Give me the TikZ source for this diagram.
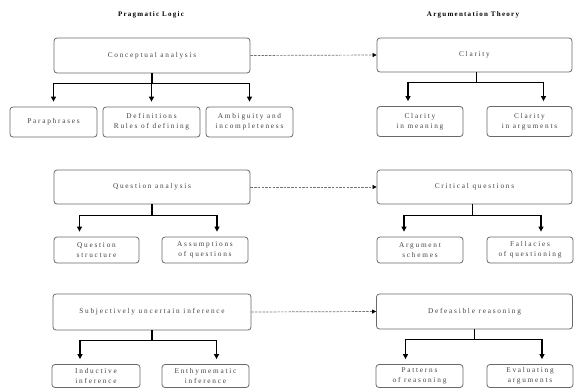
\documentclass[tikz,border=0pt]{standalone}
\usepackage{fontspec}
\newfontfamily\boxfont[LetterSpace=24]{Liberation Serif}
\newfontfamily\headfont[LetterSpace=18]{Liberation Serif Bold}
\usetikzlibrary{arrows.meta}
\definecolor{boxline}{RGB}{105,105,105}
\definecolor{boxtext}{RGB}{65,65,65}

\begin{document}
\begin{tikzpicture}[x=1pt,y=-1pt,
    box/.style={draw=boxline, line width=0.8pt, rounded corners=3pt, align=center,
      text=boxtext, inner sep=0pt, font=\boxfont\fontsize{7.3}{10}\selectfont},
    head/.style={font=\headfont\fontsize{7}{9}\selectfont},
    tree/.style={line width=1.2pt, shorten >=5pt, -{Triangle[length=5pt,width=5pt]}},
    link/.style={draw=gray!90!black, line width=0.7pt, dash pattern=on 2.5pt off 1.2pt,
      -{Triangle[length=4pt,width=4pt,color=black]}}]
  \useasboundingbox (0,0) rectangle (574,389);
  % Column headings
  \node[head] (hleft) at (151,15) {Pragmatic Logic};
  \node[head] (hright) at (473,15) {Argumentation Theory};
  % Conceptual analysis / Clarity
  \node[box, minimum width=196pt, minimum height=35pt] (concept) at (152,55.5) {Conceptual analysis};
  \node[box, minimum width=195pt, minimum height=34pt] (clarity) at (474.5,55) {Clarity};
  \node[box, minimum width=87pt, minimum height=30pt] (para) at (53.5,122) {Paraphrases};
  \node[box, minimum width=97pt, minimum height=30pt] (defin) at (151.5,122) {Definitions\\Rules of defining};
  \node[box, minimum width=87pt, minimum height=30pt] (ambig) at (249.5,122) {Ambiguity and\\incompleteness};
  \node[box, minimum width=86pt, minimum height=30pt] (cmean) at (420,121.5) {Clarity\\in meaning};
  \node[box, minimum width=85pt, minimum height=30pt] (carg) at (529.5,121.5) {Clarity\\in arguments};
  \draw[link] (concept.east) -- (clarity.west);
  \draw[tree] (concept.south) -- ++(0,10) -| (para.north);
  \draw[tree] (concept.south) -- ++(0,10) -| (defin.north);
  \draw[tree] (concept.south) -- ++(0,10) -| (ambig.north);
  \draw[tree] ([xshift=2pt]clarity.south) -- ++(0,10) -| ([xshift=-12pt]cmean.north);
  \draw[tree] ([xshift=2pt]clarity.south) -- ++(0,10) -| ([xshift=14pt]carg.north);
  % Question analysis / Critical questions
  \node[box, minimum width=196pt, minimum height=34pt] (quest) at (152,187) {Question analysis};
  \node[box, minimum width=195pt, minimum height=34pt] (crit) at (474.5,187) {Critical questions};
  \node[box, minimum width=85pt, minimum height=26pt] (qstruct) at (96.5,250) {Question\\structure};
  \node[box, minimum width=86pt, minimum height=26pt] (qassum) at (205,250) {Assumptions\\of questions};
  \node[box, minimum width=86pt, minimum height=26pt] (aschem) at (420,250) {Argument\\schemes};
  \node[box, minimum width=86pt, minimum height=26pt] (fallac) at (530,250) {Fallacies\\of questioning};
  \draw[link] (quest.east) -- (crit.west);
  \draw[tree] (quest.south) -- ++(0,11) -| ([xshift=-17pt]qstruct.north);
  \draw[tree] (quest.south) -- ++(0,11) -| ([xshift=12pt]qassum.north);
  \draw[tree] ([xshift=-2pt]crit.south) -- ++(0,11) -| ([xshift=-16pt]aschem.north);
  \draw[tree] ([xshift=-2pt]crit.south) -- ++(0,11) -| ([xshift=11pt]fallac.north);
  % Subjectively uncertain inference / Defeasible reasoning
  \node[box, minimum width=198pt, minimum height=36pt] (subj) at (152,312) {Subjectively uncertain inference};
  \node[box, minimum width=196pt, minimum height=35pt] (defeas) at (474.5,311.5) {Defeasible reasoning};
  \node[box, minimum width=88pt, minimum height=23pt] (induct) at (96,376) {Inductive\\inference};
  \node[box, minimum width=87pt, minimum height=23pt] (enthym) at (205.5,376) {Enthymematic\\inference};
  \node[box, minimum width=87pt, minimum height=23pt] (patt) at (419.5,376) {Patterns\\of reasoning};
  \node[box, minimum width=86pt, minimum height=23pt] (evalu) at (530,376) {Evaluating\\arguments};
  \draw[link] (subj.east) -- (defeas.west);
  \draw[tree] (subj.south) -- ++(0,10) -| ([xshift=-16pt]induct.north);
  \draw[tree] (subj.south) -- ++(0,10) -| ([xshift=11pt]enthym.north);
  \draw[tree] (defeas.south) -- ++(0,10) -| ([xshift=-14pt]patt.north);
  \draw[tree] (defeas.south) -- ++(0,10) -| ([xshift=12pt]evalu.north);
\end{tikzpicture}
\end{document}
